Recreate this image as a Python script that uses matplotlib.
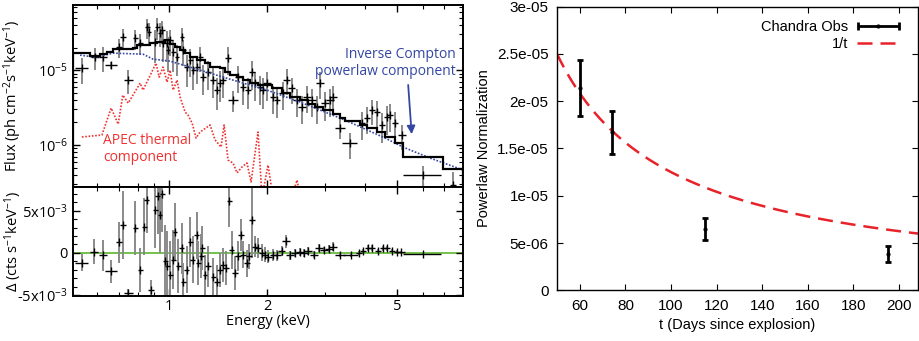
import numpy as np
import matplotlib
matplotlib.use('Agg')
from matplotlib import pyplot as plt
from matplotlib import ticker
from matplotlib.legend_handler import HandlerErrorbar

plt.rcParams['font.family'] = ['Open Sans', 'DejaVu Sans']
plt.rcParams['mathtext.default'] = 'regular'

# ---- X-ray spectrum (flux in units of 1e-5 ph cm-2 s-1 keV-1) ----
flux_unit = 1e-5
spec_e = [0.540, 0.593, 0.627, 0.662, 0.703, 0.723, 0.749, 0.787, 0.815, 0.856,
          0.868, 0.906, 0.919, 0.938, 0.952, 0.959, 0.986, 0.993, 1.007, 1.029,
          1.058, 1.096, 1.104, 1.135, 1.16, 1.185, 1.219, 1.245, 1.271, 1.317,
          1.365, 1.403, 1.433, 1.465, 1.517, 1.571, 1.628, 1.686, 1.747, 1.797,
          1.836, 1.902, 1.942, 1.998, 2.084, 2.144, 2.237, 2.30, 2.384, 2.47,
          2.558, 2.65, 2.746, 2.844, 2.904, 3.01, 3.118, 3.185, 3.345, 3.59,
          3.91, 4.05, 4.196, 4.345, 4.50, 4.66, 4.76, 4.93, 5.185, 6.01, 7.43]
spec_f = [1.06, 1.49, 1.49, 1.17, 2.03, 2.75, 0.74, 2.67, 2.29, 3.74,
          3.21, 2.36, 3.74, 3.11, 3.41, 2.29, 2.29, 1.85, 2.51, 1.74,
          1.49, 2.75, 1.85, 1.10, 1.36, 1.00, 1.10, 1.49, 0.81, 0.94,
          0.74, 0.54, 0.67, 0.74, 1.45, 0.40, 0.81, 0.59, 0.54, 0.94,
          0.67, 0.59, 0.54, 0.67, 0.44, 0.40, 0.49, 0.74, 0.575, 0.40,
          0.32, 0.44, 0.40, 0.32, 0.67, 0.36, 0.40, 0.44, 0.17, 0.106,
          0.196, 0.229, 0.293, 0.275, 0.185, 0.236, 0.251, 0.196, 0.136, 0.040, 0.029]
spec_ferr = [0.40, 0.50, 0.55, 0.12, 0.60, 0.75, 0.26, 0.80, 0.70, 1.10,
             1.10, 1.10, 1.20, 1.10, 1.10, 1.00, 1.00, 0.90, 0.95, 0.80,
             0.65, 0.85, 0.70, 0.50, 0.55, 0.45, 0.45, 0.55, 0.35, 0.40,
             0.32, 0.25, 0.30, 0.32, 0.60, 0.12, 0.32, 0.25, 0.24, 0.40,
             0.28, 0.25, 0.24, 0.28, 0.18, 0.17, 0.20, 0.28, 0.22, 0.16,
             0.13, 0.17, 0.16, 0.13, 0.26, 0.15, 0.16, 0.17, 0.05, 0.04,
             0.08, 0.09, 0.11, 0.11, 0.08, 0.10, 0.10, 0.08, 0.05, 0.012, 0.015]
spec_xerr = [0.025, 0.017, 0.018, 0.028, 0.015, 0.015, 0.024, 0.014, 0.014, 0.015,
             0.015, 0.016, 0.016, 0.016, 0.017, 0.017, 0.017, 0.017, 0.018, 0.018,
             0.018, 0.019, 0.019, 0.02, 0.02, 0.021, 0.021, 0.022, 0.027, 0.028,
             0.029, 0.03, 0.03, 0.031, 0.032, 0.055, 0.035, 0.036, 0.037, 0.038,
             0.039, 0.04, 0.041, 0.05, 0.05, 0.052, 0.055, 0.057, 0.059, 0.07,
             0.072, 0.075, 0.078, 0.08, 0.082, 0.085, 0.088, 0.09, 0.12, 0.19,
             0.085, 0.086, 0.089, 0.092, 0.095, 0.1, 0.1, 0.105, 0.15, 0.8, 0.15]

# total model (binned)
model_edges = [0.508, 0.572, 0.614, 0.645, 0.673, 0.776, 0.798, 0.874, 0.919, 0.972,
               1.007, 1.043, 1.081, 1.12, 1.16, 1.219, 1.289, 1.336, 1.433, 1.485,
               1.538, 1.617, 1.686, 1.772, 1.875, 2.07, 2.222, 2.35, 2.523, 2.669,
               2.805, 2.966, 3.185, 3.345, 3.467, 3.85, 4.05, 4.345, 4.60, 4.93,
               5.22, 6.93, 7.98]
model_f = [1.685, 1.537, 1.634, 1.738, 1.905, 1.965, 2.15, 2.29, 2.36, 2.51,
           2.22, 2.03, 1.85, 1.685, 1.49, 1.36, 1.24, 1.096, 1.063, 0.94,
           0.858, 0.806, 0.736, 0.671, 0.631, 0.575, 0.494, 0.436, 0.398, 0.352,
           0.321, 0.293, 0.259, 0.229, 0.209, 0.185, 0.1686, 0.149, 0.128, 0.1063,
           0.0692, 0.0479]

# inverse Compton powerlaw component
pl_e = [0.533, 0.593, 0.673, 0.832, 0.893, 1.007, 1.245, 1.571, 1.998, 2.523,
        3.467, 4.60, 5.22, 6.32, 7.98]
pl_f = [1.585, 1.49, 1.685, 1.634, 1.40, 1.318, 1.0, 0.736, 0.541, 0.375,
        0.215, 0.124, 0.094, 0.067, 0.0464]

# APEC thermal component
apec_e = [0.540, 0.622, 0.664, 0.698, 0.721, 0.749, 0.815, 0.832, 0.912, 0.932,
          0.958, 0.986, 1.007, 1.029, 1.058, 1.081, 1.12, 1.143, 1.177, 1.21,
          1.245, 1.336, 1.384, 1.444, 1.475, 1.517, 1.571, 1.617, 1.674, 1.734,
          1.785, 1.836, 1.875, 1.928, 2.012, 2.084, 2.27, 2.38, 2.47, 2.56]
apec_f = [0.128, 0.136, 0.311, 0.19, 0.464, 0.363, 0.671, 0.541, 1.24, 0.806,
          1.096, 0.692, 1.0, 0.541, 0.736, 0.436, 0.275, 0.251, 0.196, 0.124,
          0.149, 0.185, 0.117, 0.094, 0.185, 0.063, 0.0575, 0.0424, 0.0509, 0.0575,
          0.0321, 0.0782, 0.149, 0.02, 0.054, 0.02, 0.015, 0.02, 0.034, 0.015]

# residuals (units of 1e-3 cts s-1 keV-1)
res_unit = 1e-3
res_e = [0.540, 0.589, 0.626, 0.662, 0.703, 0.721, 0.750, 0.787, 0.815, 0.838,
         0.854, 0.881, 0.906, 0.923, 0.938, 0.954, 0.972, 0.988, 1.007, 1.031,
         1.043, 1.068, 1.094, 1.106, 1.133, 1.16, 1.182, 1.216, 1.23, 1.255,
         1.265, 1.289, 1.32, 1.368, 1.401, 1.433, 1.468, 1.496, 1.531, 1.557,
         1.594, 1.632, 1.663, 1.69, 1.731, 1.764, 1.794, 1.836, 1.879, 1.925,
         1.97, 2.017, 2.089, 2.149, 2.217, 2.285, 2.35, 2.435, 2.523, 2.595,
         2.675, 2.785, 2.891, 2.988, 3.097, 3.192, 3.345, 3.61, 3.826, 3.945,
         4.087, 4.187, 4.385, 4.544, 4.673, 4.82, 4.994, 5.136, 6.026]
res_val = [-1.15, 0.15, -0.3, -2.2, 1.26, 3.3, -4.8, 3.0, -2.0, 3.1,
           6.3, -4.4, 5.1, 6.7, 4.5, 7.0, -1.0, -1.6, -2.6, -0.8,
           2.5, -1.6, 0.55, -3.4, -2.0, 1.3, -0.8, 2.1, -1.2, -0.4,
           0.6, -2.6, -1.6, -2.8, -3.4, -2.0, -1.4, -1.8, 6.1, 0.35,
           -2.4, -0.4, 2.1, -0.2, -1.2, -0.4, 3.9, 0.75, 0.55, 0.0,
           -0.2, -0.45, -0.2, -0.3, 0.25, 1.35, -0.3, 0.0, 0.1, 0.0,
           0.2, -0.2, 0.6, 0.35, 0.5, 0.75, -0.25, -0.3, 0.0, 0.2,
           0.55, 0.55, 0.2, 0.55, 0.55, 0.25, 0.1, 0.05, -0.1]
res_err = [1.0, 1.5, 1.8, 1.4, 2.4, 4.0, 0.5, 3.2, 2.6, 3.4,
           4.0, 1.2, 4.5, 4.5, 4.5, 4.5, 4.3, 4.2, 4.0, 3.5,
           3.4, 3.2, 3.0, 2.2, 2.8, 3.0, 2.8, 2.8, 2.6, 2.6,
           2.6, 2.4, 2.4, 2.2, 2.0, 2.0, 2.0, 2.0, 3.0, 2.2,
           2.0, 1.8, 1.9, 1.6, 1.6, 1.5, 4.5, 1.2, 1.2, 1.0,
           0.9, 0.8, 0.7, 0.6, 0.6, 0.8, 0.5, 0.5, 0.45, 0.45,
           0.45, 0.4, 0.5, 0.4, 0.45, 0.5, 0.25, 0.2, 0.2, 0.25,
           0.35, 0.35, 0.25, 0.3, 0.3, 0.2, 0.2, 0.15, 0.1]
res_xerr = [0.025, 0.017, 0.018, 0.028, 0.015, 0.015, 0.024, 0.014, 0.014, 0.015,
            0.015, 0.02, 0.016, 0.016, 0.016, 0.017, 0.017, 0.017, 0.018, 0.018,
            0.018, 0.019, 0.019, 0.019, 0.02, 0.02, 0.021, 0.021, 0.021, 0.022,
            0.022, 0.022, 0.027, 0.027, 0.028, 0.028, 0.03, 0.03, 0.03, 0.03,
            0.035, 0.035, 0.036, 0.036, 0.037, 0.038, 0.038, 0.039, 0.04, 0.041,
            0.045, 0.05, 0.05, 0.052, 0.055, 0.057, 0.059, 0.065, 0.07, 0.072,
            0.075, 0.078, 0.08, 0.082, 0.085, 0.09, 0.12, 0.19, 0.08, 0.085,
            0.086, 0.089, 0.092, 0.095, 0.1, 0.1, 0.105, 0.15, 0.8]

# ---- powerlaw normalization vs time ----
obs_t = [60, 74, 115, 195]
obs_norm = [2.14e-5, 1.67e-5, 6.5e-6, 3.8e-6]
obs_lo = [1.84e-5, 1.44e-5, 5.3e-6, 3.0e-6]
obs_hi = [2.44e-5, 1.90e-5, 7.7e-6, 4.7e-6]
norm_1t = 1.25e-3  # fitted 1/t normalization

grey = '#8a8a8a'
blue = '#3347a3'
red = '#f03232'

fig = plt.figure(figsize=(9.19, 3.41), dpi=100)
ax_s = fig.add_axes([0.0794, 0.4516, 0.4244, 0.5337])
ax_r = fig.add_axes([0.0794, 0.132, 0.4244, 0.3196], sharex=ax_s)

f = np.array(spec_f) * flux_unit
ferr = np.array(spec_ferr) * flux_unit
f_lo = np.minimum(ferr, f * 0.999)
ax_s.errorbar(spec_e, f, yerr=[f_lo, ferr], fmt='none', ecolor=grey, elinewidth=1.4, zorder=2)
ax_s.errorbar(spec_e, f, xerr=spec_xerr, fmt='none', ecolor='black', elinewidth=1.0, zorder=2)
ax_s.plot(spec_e, f, ls='none', marker='|', ms=6, mew=1.0, color='black', zorder=2)
ax_s.plot(pl_e, np.array(pl_f) * flux_unit, color=blue, ls=(0, (1, 1)), lw=1.2, zorder=3)
ax_s.stairs(np.array(model_f) * flux_unit, model_edges, color='black', lw=1.6, zorder=4)
ax_s.plot(apec_e, np.array(apec_f) * flux_unit, color=red, ls=(0, (1, 1)), lw=1.2, zorder=3)

ax_s.set_xscale('log')
ax_s.set_yscale('log')
ax_s.set_xlim(0.507, 7.98)
ax_s.set_ylim(2.75e-7, 7.4e-5)
ax_s.set_ylabel('Flux (ph cm$^{-2}$s$^{-1}$keV$^{-1}$)', fontsize=10.5)
ax_s.yaxis.set_label_coords(-0.125, 0.5)

ax_s.text(0.982, 0.68, 'Inverse Compton\npowerlaw component', transform=ax_s.transAxes,
          ha='right', va='center', color=blue, fontsize=10, linespacing=1.15)
ax_s.annotate('', xy=(5.56, 0.128 * flux_unit), xytext=(5.41, 0.69 * flux_unit),
              arrowprops=dict(arrowstyle='-|>', color=blue, lw=1.3, mutation_scale=12))
ax_s.text(0.077, 0.21, 'APEC thermal\ncomponent', transform=ax_s.transAxes,
          ha='left', va='center', color=red, fontsize=10, linespacing=1.15)

r = np.array(res_val) * res_unit
rerr = np.array(res_err) * res_unit
ax_r.axhline(0, color='#5cb82e', lw=1.2, zorder=1)
ax_r.errorbar(res_e, r, yerr=rerr, fmt='none', ecolor=grey, elinewidth=1.4, zorder=2)
ax_r.errorbar(res_e, r, xerr=res_xerr, fmt='none', ecolor='black', elinewidth=1.0, zorder=3)
ax_r.plot(res_e, r, ls='none', marker='|', ms=6, mew=1.0, color='black', zorder=3)
ax_r.set_ylim(-5.1e-3, 7.8e-3)
ax_r.yaxis.set_major_locator(ticker.FixedLocator([-5e-3, 0, 5e-3]))
ax_r.yaxis.set_major_formatter(ticker.FixedFormatter(['-5x10$^{-3}$', '0', '5x10$^{-3}$']))
ax_r.yaxis.set_minor_locator(ticker.MultipleLocator(1e-3))
ax_r.set_ylabel('Δ (cts s$^{-1}$keV$^{-1}$)', fontsize=10.5)
ax_r.yaxis.set_label_coords(-0.125, 0.5)
ax_r.set_xlabel('Energy (keV)', fontsize=10.5, labelpad=0)

ax_r.xaxis.set_major_locator(ticker.FixedLocator([1, 2, 5]))
ax_r.xaxis.set_major_formatter(ticker.FuncFormatter(lambda v, p: '%g' % v))
ax_r.xaxis.set_minor_locator(ticker.LogLocator(base=10, subs=np.arange(2, 10) * 0.1, numticks=20))
ax_r.xaxis.set_minor_formatter(ticker.NullFormatter())

for ax in (ax_s, ax_r):
    ax.tick_params(which='both', direction='in', top=True, right=True, labelsize=10.5)
    ax.tick_params(which='major', length=5, width=1)
    ax.tick_params(which='minor', length=3, width=0.8)
    for sp in ax.spines.values():
        sp.set_linewidth(1.4)
ax_s.tick_params(labelbottom=False)
ax_r.tick_params(axis='x', pad=2)

# ---- right panel ----
ax_t = fig.add_axes([0.6061, 0.1487, 0.3928, 0.8317])
t_model = np.linspace(50, 210, 300)
line_1t, = ax_t.plot(t_model, norm_1t / t_model, color='#e8222a', lw=1.8, dashes=(6, 3.2))
norm = np.array(obs_norm)
err = [norm - np.array(obs_lo), np.array(obs_hi) - norm]
ax_t.errorbar(obs_t, norm, yerr=err, fmt='.', color='black', ms=4, lw=2,
              capsize=2.5, capthick=2)
proxy = ax_t.errorbar([np.nan], [np.nan], xerr=[1], fmt='.', color='black', ms=4, lw=2,
                      capsize=3, capthick=2)
ax_t.legend([proxy, line_1t], ['Chandra Obs', '1/t'], loc='upper right',
            bbox_to_anchor=(0.985, 1.0), frameon=False, markerfirst=False,
            handlelength=2.9, handletextpad=0.6, labelspacing=0.2,
            prop={'family': 'Liberation Sans', 'size': 10.5},
            handler_map={proxy: HandlerErrorbar(xerr_size=1.4)})

ax_t.set_xlim(50, 208.3)
ax_t.set_ylim(0, 3e-5)
ax_t.xaxis.set_major_locator(ticker.MultipleLocator(20))
ax_t.yaxis.set_major_locator(ticker.MultipleLocator(5e-6))
ax_t.yaxis.set_major_formatter(ticker.FuncFormatter(lambda v, p: '%g' % v))
ax_t.tick_params(direction='in', top=True, right=True, length=4, width=0.8,
                 labelsize=11, labelfontfamily='Liberation Sans', pad=6)
ax_t.set_xlabel('t (Days since explosion)', fontsize=10.5, family='Liberation Sans')
ax_t.set_ylabel('Powerlaw Normalization', fontsize=10.5, family='Liberation Sans')
for sp in ax_t.spines.values():
    sp.set_linewidth(1.0)

fig.savefig('out.png', dpi=100)
